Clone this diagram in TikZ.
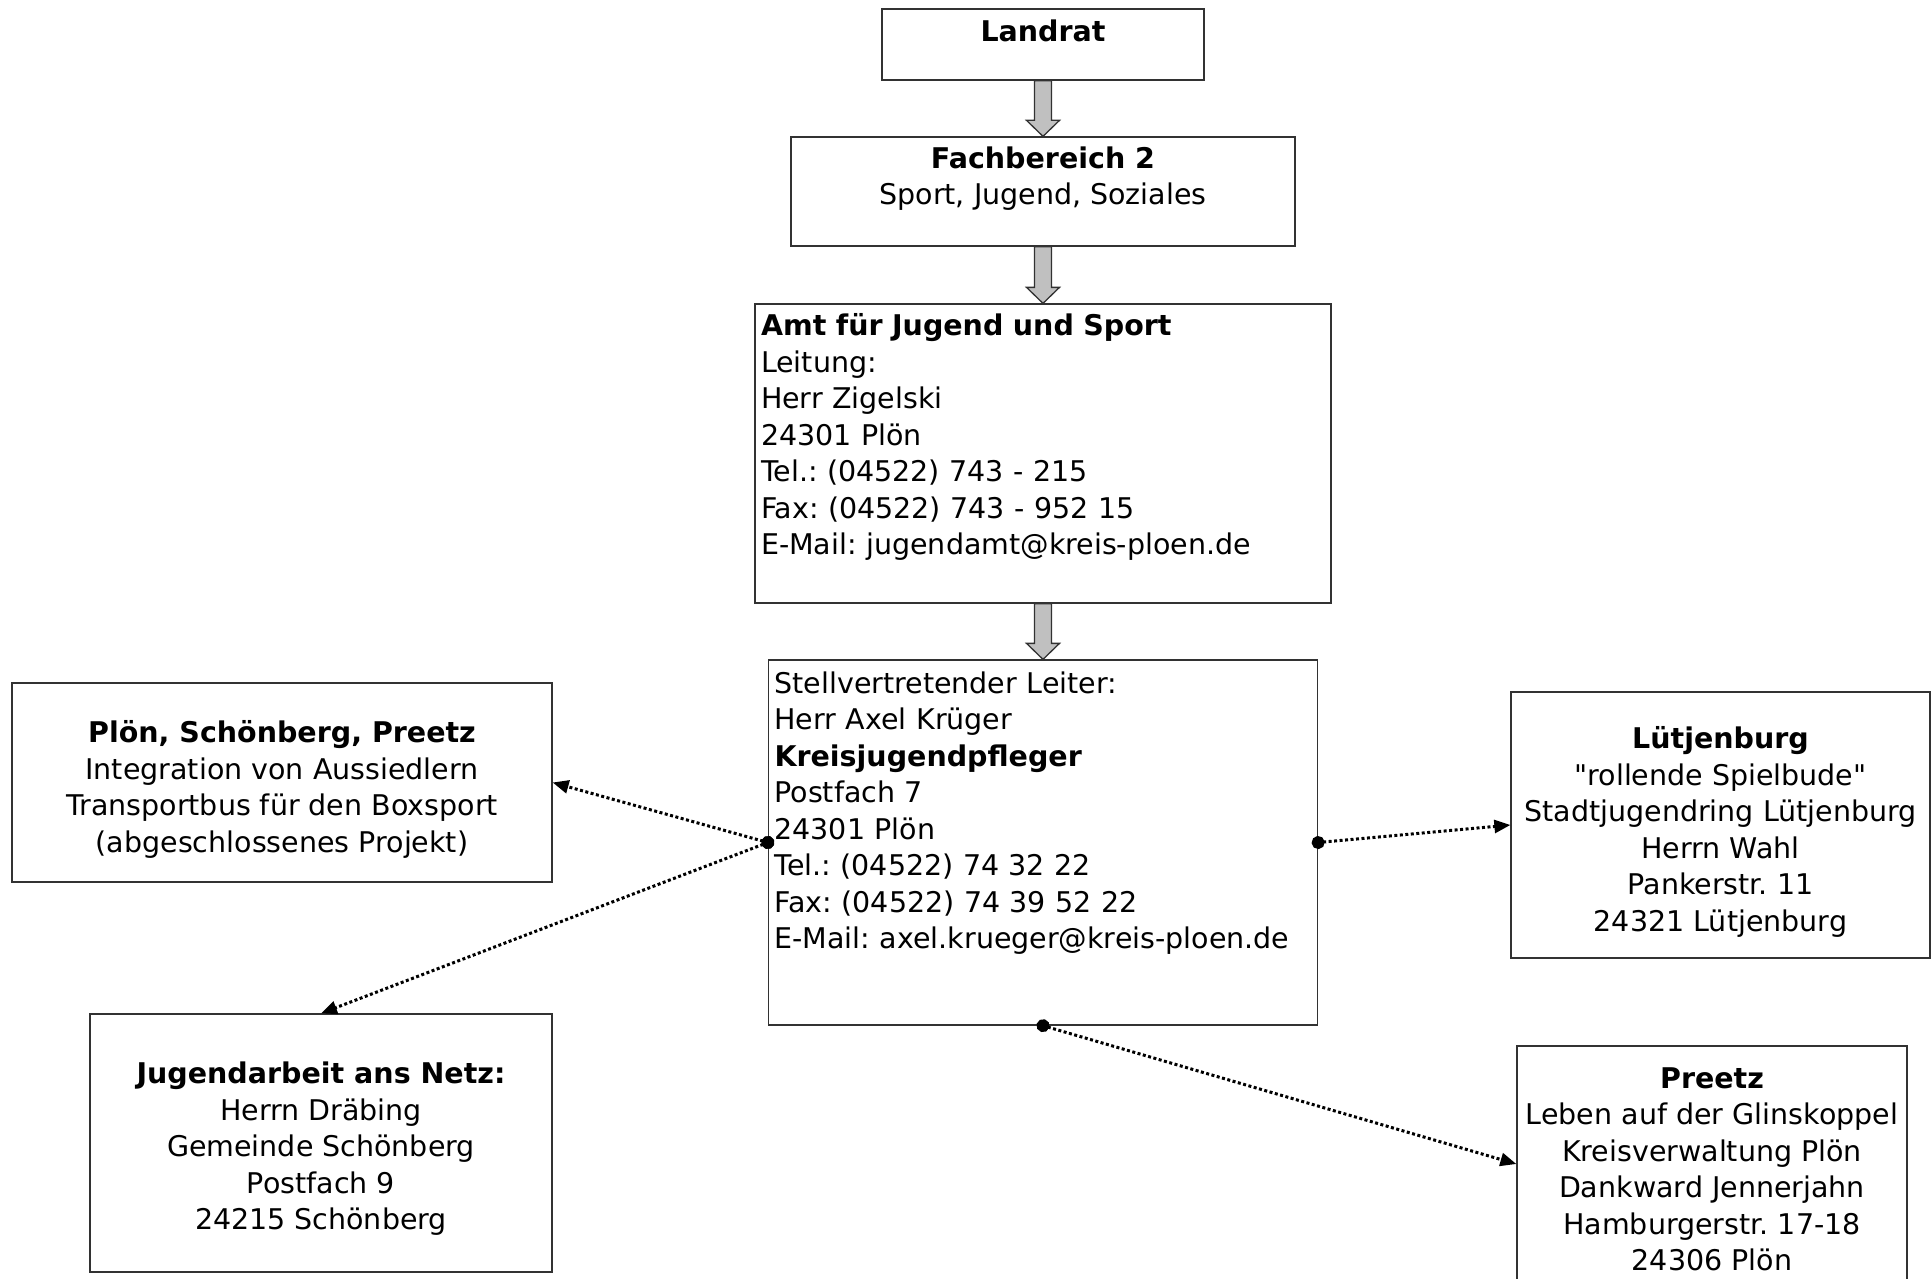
\documentclass[tikz,border=0pt]{standalone}
\usepackage{fontspec}
\newfontfamily\boxfont{DejaVu Sans}
\usetikzlibrary{arrows.meta,calc}
\definecolor{arrowgray}{RGB}{192,192,192}
\definecolor{framegray}{RGB}{50,50,50}
\tikzstyle{box}=[draw=framegray,line width=1.3pt,rectangle,font=\boxfont\fontsize{28.5}{36.5}\selectfont\frenchspacing]
\tikzstyle{leftbox}=[box,align=left,inner xsep=6pt,inner ysep=0pt]
\tikzstyle{midbox}=[box,align=center,inner sep=0pt]
\tikzstyle{link}=[line width=3pt,dash pattern=on 3pt off 2.5pt,{Circle[length=13pt]}-{Triangle[length=16pt,width=13pt]},shorten <=-6.5pt]
\newcommand{\lift}[1][31pt]{\rule{0pt}{#1}}
\newcommand{\sink}[1]{\rule[-#1]{0pt}{0pt}}
\newcommand{\blockarrow}[2]{%
	\draw[draw=framegray,line width=1.3pt,fill=arrowgray]
	($(#1.south)+(-8.5,0)$) -- ($(#2.north)+(-8.5,-16)$) -- ($(#2.north)+(-16.5,-16)$)
	-- (#2.north) -- ($(#2.north)+(16.5,-16)$) -- ($(#2.north)+(8.5,-16)$)
	-- ($(#1.south)+(8.5,0)$) -- cycle;}

\begin{document}
\begin{tikzpicture}[x=1pt,y=-1pt]
	\useasboundingbox (0,0) rectangle (1932,1279);
	%main line
	\node[midbox,minimum width=322pt,minimum height=71pt] (land) at (1043,44.5)
	{\lift{\bfseries Landrat}\sink{37pt}};
	\node[midbox,minimum width=504pt,minimum height=109pt] (fach) at (1043,191.5)
	{\lift{\bfseries Fachbereich 2}\\ Sport, Jugend, Soziales\sink{41.5pt}};
	\node[leftbox,text width=564pt,minimum height=299pt] (amt) at (1043,453.5)
	{\lift{\bfseries Amt für Jugend und Sport}\\
		Leitung:\\
		Herr Zigelski\\
		24301 Plön\\
		Tel.: (04522) 743 - 215\\
		Fax: (04522) 743 - 952 15\\
		E-Mail: jugendamt@kreis-ploen.de\\
		\strut};
	\node[leftbox,text width=537pt,minimum height=365pt] (stv) at (1043,842.5)
	{\lift[33pt]Stellvertretender Leiter:\\
		Herr Axel Krüger\\
		{\bfseries Kreisjugendpfleger}\\
		Postfach 7\\
		24301 Plön\\
		Tel.: (04522) 74 32 22\\
		Fax: (04522) 74 39 52 22\\
		E-Mail: axel.krueger@kreis-ploen.de\sink{76pt}};
	%projects
	\node[midbox,minimum width=540pt,minimum height=199pt] (ploen) at (282,782.5)
	{\lift[36pt]{\bfseries Plön, Schönberg, Preetz}\\
		Integration von Aussiedlern\\
		Transportbus für den Boxsport\\
		(abgeschlossenes Projekt)};
	\node[midbox,minimum width=462pt,minimum height=258pt] (netz) at (321,1143)
	{\lift[33pt]{\bfseries Jugendarbeit ans Netz:}\\
		Herrn Dräbing\\
		Gemeinde Schönberg\\
		Postfach 9\\
		24215 Schönberg};
	\node[midbox,minimum width=419pt,minimum height=266pt] (luet) at (1720.5,825)
	{\lift[36pt]{\bfseries Lütjenburg}\\
		"rollende Spielbude"\\
		Stadtjugendring Lütjenburg\\
		Herrn Wahl\\
		Pankerstr. 11\\
		24321 Lütjenburg};
	\node[midbox,minimum width=390pt,minimum height=236pt] (preetz) at (1712,1164)
	{\lift{\bfseries Preetz}\\
		Leben auf der Glinskoppel\\
		Kreisverwaltung Plön\\
		Dankward Jennerjahn\\
		Hamburgerstr. 17-18\\
		24306 Plön};
	%arrows
	\blockarrow{land}{fach}
	\blockarrow{fach}{amt}
	\blockarrow{amt}{stv}
	\draw[link] (stv.west) -- (ploen.east);
	\draw[link] (stv.west) -- (netz.north);
	\draw[link] (stv.east) -- (luet.west);
	\draw[link] (stv.south) -- (preetz.west);
\end{tikzpicture}
\end{document}
